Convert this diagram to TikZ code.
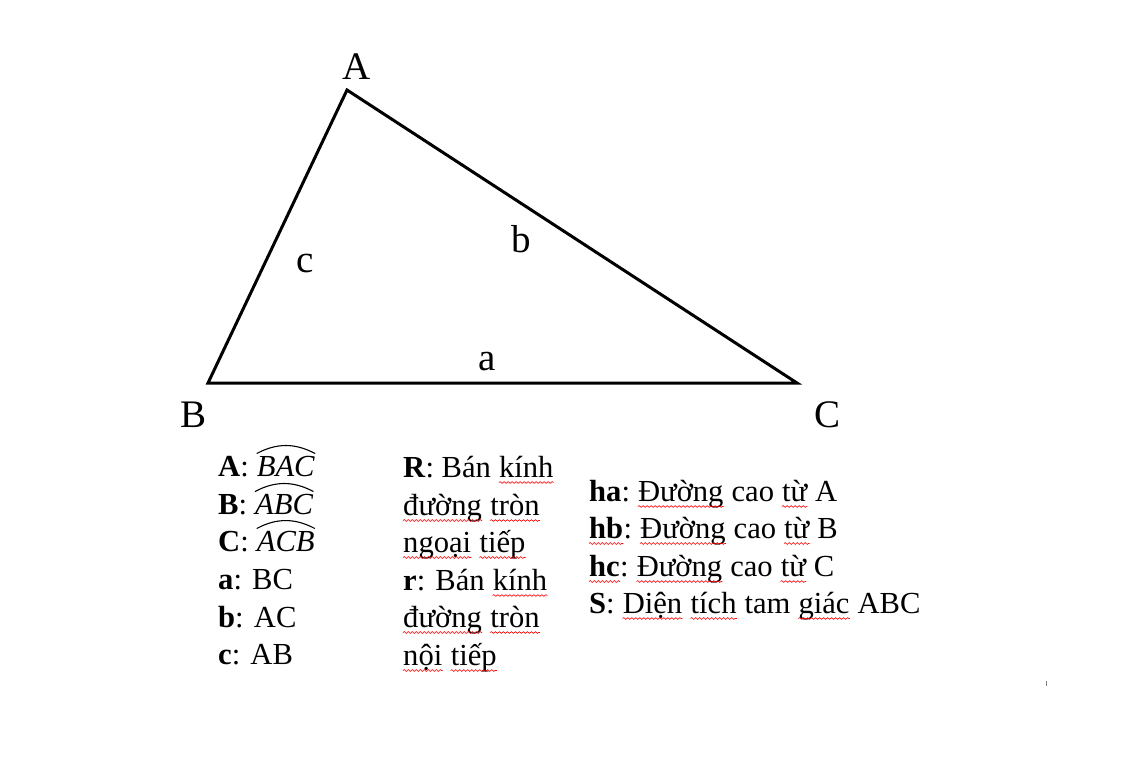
\documentclass[tikz,border=0pt]{standalone}
\usepackage{fontspec}
\setmainfont{Liberation Serif}
\usetikzlibrary{decorations.pathmorphing}
\tikzset{
  legend/.style={font=\fontsize{30.6}{37}\selectfont, inner sep=0pt, anchor=base west},
  vlabel/.style={font=\fontsize{39}{44}\selectfont, inner sep=0pt, anchor=base},
  side/.style={line width=3pt, line join=miter},
  arcline/.style={line width=1.1pt},
  wave/.style={red, line width=0.6pt, decorate, decoration={snake, amplitude=0.9pt, segment length=4pt}},
}
\newcommand\wave[1]{\draw[wave] ([yshift=-5.5pt]#1.base west) -- ([yshift=-5.5pt]#1.base east);}
\newcommand\hsp{\ \null}
\begin{document}
\begin{tikzpicture}[x=1pt,y=-1pt]
\useasboundingbox (0,0) rectangle (1134,760);
% triangle
\coordinate (A) at (347,90);
\coordinate (B) at (208,383);
\coordinate (C) at (797,383);
\draw[side] (A) -- (B) -- (C) -- cycle;
% vertex labels
\node[vlabel] (lA) at (357,79) {A};
\node[vlabel] (lB) at (193.5,427) {B};
\node[vlabel] (lC) at (827,427) {C};
% side labels
\node[vlabel] (sc) at (305,272) {c};
\node[vlabel] (sb) at (521,252) {b};
\node[vlabel] (sa) at (487,370) {a};
% column 1
\node[legend] (r1) at (218,476) {\textbf{A}:\hsp};
\node[legend] (r1m) at (r1.base east) {\textit{BAC}};
\node[legend] (r2) at (218,514) {\textbf{B}:\hsp};
\node[legend] (r2m) at (r2.base east) {\textit{ABC}};
\node[legend] (r3) at (218,551) {\textbf{C}:\hsp};
\node[legend] (r3m) at (r3.base east) {\textit{ACB}};
\draw[arcline] ([yshift=2pt]r1m.north west) to[bend left=28] ([yshift=2pt]r1m.north east);
\draw[arcline] ([yshift=2pt]r2m.north west) to[bend left=28] ([yshift=2pt]r2m.north east);
\draw[arcline] ([yshift=2pt]r3m.north west) to[bend left=28] ([yshift=2pt]r3m.north east);
\node[legend] (r4) at (218,589) {\textbf{a}: BC};
\node[legend] (r5) at (218,627) {\textbf{b}: AC};
\node[legend] (r6) at (218,664) {\textbf{c}: AB};
% column 2
\node[legend] (q1a) at (403,477) {\textbf{R}: Bán\hsp};
\node[legend] (q1b) at (q1a.base east) {kính};
\node[legend] (q2a) at (403,515) {đường};
\node[legend] (q2b) at (q2a.base east) {\hsp};
\node[legend] (q2c) at (q2b.base east) {tròn};
\node[legend] (q3a) at (403,552) {ngoại};
\node[legend] (q3b) at (q3a.base east) {\hsp};
\node[legend] (q3c) at (q3b.base east) {tiếp};
\node[legend] (q4a) at (403,590) {\textbf{r}: Bán\hsp};
\node[legend] (q4b) at (q4a.base east) {kính};
\node[legend] (q5a) at (403,627) {đường};
\node[legend] (q5b) at (q5a.base east) {\hsp};
\node[legend] (q5c) at (q5b.base east) {tròn};
\node[legend] (q6a) at (403,665) {nội};
\node[legend] (q6b) at (q6a.base east) {\hsp};
\node[legend] (q6c) at (q6b.base east) {tiếp};
\wave{q1b} \wave{q2a} \wave{q2c} \wave{q3a} \wave{q3c}
\wave{q4b} \wave{q5a} \wave{q5c} \wave{q6a} \wave{q6c}
% column 3
\node[legend] (p1a) at (589,501) {\textbf{ha}:\hsp};
\node[legend] (p1b) at (p1a.base east) {Đường};
\node[legend] (p1c) at (p1b.base east) {\ cao\hsp};
\node[legend] (p1d) at (p1c.base east) {từ};
\node[legend] (p1e) at (p1d.base east) {\ A};
\node[legend] (p2a) at (589,538) {\textbf{hb}};
\node[legend] (p2b) at (p2a.base east) {:\hsp};
\node[legend] (p2c) at (p2b.base east) {Đường};
\node[legend] (p2d) at (p2c.base east) {\ cao\hsp};
\node[legend] (p2e) at (p2d.base east) {từ};
\node[legend] (p2f) at (p2e.base east) {\ B};
\node[legend] (p3a) at (589,576) {\textbf{hc}};
\node[legend] (p3b) at (p3a.base east) {:\hsp};
\node[legend] (p3c) at (p3b.base east) {Đường};
\node[legend] (p3d) at (p3c.base east) {\ cao\hsp};
\node[legend] (p3e) at (p3d.base east) {từ};
\node[legend] (p3f) at (p3e.base east) {\ C};
\node[legend] (p4a) at (589,613) {\textbf{S}:\hsp};
\node[legend] (p4b) at (p4a.base east) {Diện};
\node[legend] (p4c) at (p4b.base east) {\hsp};
\node[legend] (p4d) at (p4c.base east) {tích};
\node[legend] (p4e) at (p4d.base east) {\ tam\hsp};
\node[legend] (p4f) at (p4e.base east) {giác};
\node[legend] (p4g) at (p4f.base east) {\ ABC};
\wave{p1b} \wave{p1d}
\wave{p2a} \wave{p2c} \wave{p2e}
\wave{p3a} \wave{p3c} \wave{p3e}
\wave{p4b} \wave{p4d} \wave{p4f}
% small mark
\draw[gray, line width=1pt] (1046.5,681) -- (1046.5,686);
\end{tikzpicture}
\end{document}
